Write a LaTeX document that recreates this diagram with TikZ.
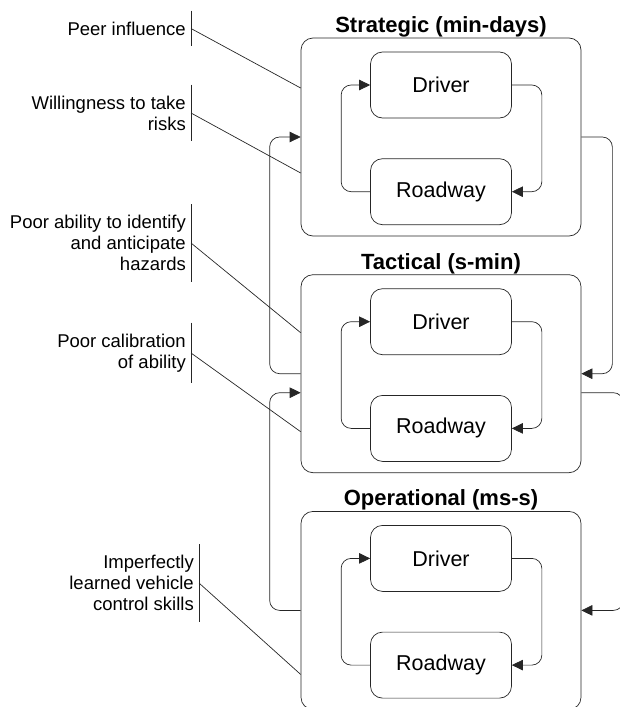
\documentclass[tikz,border=0pt]{standalone}
\usepackage{fontspec}
\setmainfont{Liberation Sans}
\usetikzlibrary{arrows.meta, positioning}
\tikzstyle{block} = [draw=black!85, rectangle, rounded corners=12pt, line width=0.7pt]
\tikzstyle{layer} = [block, minimum width=280pt, minimum height=198pt]
\tikzstyle{agent} = [block, minimum width=141pt, minimum height=66pt, font=\fontsize{21.5}{26}\selectfont]
\tikzstyle{heading} = [font=\fontsize{22}{26}\selectfont\bfseries, inner sep=0.5pt]
\tikzstyle{factor} = [align=right, anchor=east, font=\fontsize{18.5}{21}\selectfont, inner xsep=5pt, inner ysep=11pt]
\tikzstyle{link} = [draw=black!85, line width=0.7pt]
\tikzstyle{flow} = [link, -{Triangle[length=11pt, width=10.5pt]}, rounded corners=10pt]

\begin{document}
\begin{tikzpicture}[x=1pt, y=-1pt, node distance=38pt]
    \useasboundingbox (0,0) rectangle (619,707);

    % Layers.
    \node (layer1) [layer] at (441,137) {};
    \node (layer2) [layer, below=of layer1] {};
    \node (layer3) [layer, below=of layer2] {};

    \node (head1) [heading, above=0pt of layer1] {Strategic (min-days)};
    \node (head2) [heading, above=0pt of layer2] {Tactical (s-min)};
    \node (head3) [heading, above=0pt of layer3] {Operational (ms-s)};

    % Driver and roadway in each layer.
    \foreach\i in {1,2,3} {
        \node (driver\i) [agent, below=14pt of layer\i.north] {Driver};
        \node (roadway\i) [agent, below=40pt of driver\i] {Roadway};
        \draw [flow] (roadway\i.west) -- ++(-29,0) |- (driver\i.west);
        \draw [flow] (driver\i.east) -- ++(30,0) |- (roadway\i.east);
    }

    % Arrows between layers.
    \draw [flow] (layer2.west) -- ++(-31,0) |- (layer1.west);
    \draw [flow] (layer3.west) -- ++(-31,0) |- ([yshift=-19pt]layer2.west);
    \draw [flow] (layer1.east) -- ++(31,0) |- (layer2.east);
    \draw [flow] ([yshift=-19pt]layer2.east) -- ++(42,0) |- (layer3.east);

    % Factors.
    \node (peer) [factor] at (191,28.5) {Peer influence};
    \node (risk) [factor] at (191,113) {Willingness to take\\risks};
    \node (hazard) [factor] at (191,243) {Poor ability to identify\\and anticipate\\hazards};
    \node (calib) [factor] at (191,353) {Poor calibration\\of ability};
    \node (skill) [factor] at (199,583) {Imperfectly\\learned vehicle\\control skills};

    \foreach\f in {peer, risk, hazard, calib, skill} {
        \draw [link] (\f.north east) -- (\f.south east);
    }
    \draw [link] (peer.east) -- ([yshift=49pt]layer1.west);
    \draw [link] (risk.east) -- ([yshift=-36pt]layer1.west);
    \draw [link] (hazard.east) -- ([yshift=41pt]layer2.west);
    \draw [link] (calib.east) -- ([yshift=-58pt]layer2.west);
    \draw [link] (skill.east) -- ([yshift=-64pt]layer3.west);
\end{tikzpicture}
\end{document}
